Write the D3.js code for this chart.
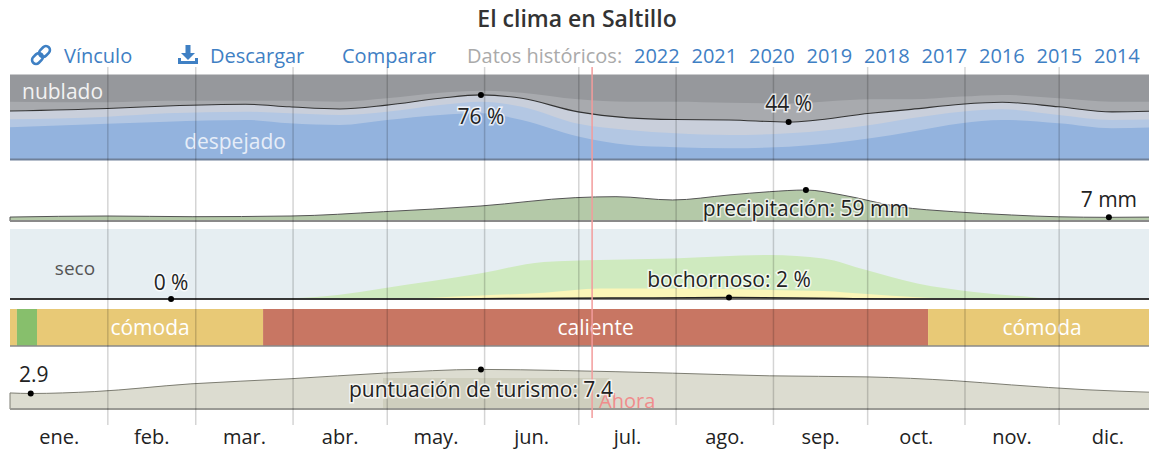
<!DOCTYPE html>
<html>
<head>
<meta charset="utf-8">
<script src="https://cdn.jsdelivr.net/npm/d3@7/dist/d3.min.js"></script>
<style>
  body { margin: 0; background: #fff; }
  svg { display: block; font-family: "Open Sans", sans-serif; }
</style>
</head>
<body>
<div id="chart"></div>
<script>
// Data ----------------------------------------------------------------------------------------------------------------
const monthNames = ["ene.", "feb.", "mar.", "abr.", "may.", "jun.", "jul.", "ago.", "sep.", "oct.", "nov.", "dic."];
const monthStarts = [0, 31, 59, 90, 120, 151, 181, 212, 243, 273, 304, 334, 365];
const historyYears = ["2022", "2021", "2020", "2019", "2018", "2017", "2016", "2015", "2014"];
const nowDay = 185.4;

// cloud cover, cumulative % from the bottom (clear -> overcast)
const cloudDays = [0, 31, 50, 75, 89, 105, 120, 137, 150, 163, 181, 197, 212, 229, 248, 274, 287, 303, 316, 334, 351, 365];
const clearTop = [38, 42, 44.5, 46.5, 42.6, 40.6, 46.5, 52.4, 54.4, 46.5, 27, 17, 14.4, 13.2, 15, 25, 32.7, 42.6, 46.5, 42.6, 36.7, 38];
const mostlyClearTop = [47.3, 50.4, 54.4, 56.2, 54.4, 52.4, 56.2, 64.1, 68, 62.1, 42, 34.7, 30.8, 28.8, 30.8, 40.6, 48.5, 56.2, 59, 52.4, 46.5, 47.3];
const cloudLine = [57, 60, 63, 65, 62, 59.4, 64, 72, 76, 72, 56, 49, 47, 46.5, 44, 54.4, 59, 65, 67.3, 62, 56, 57];
const mostlyCloudyTop = [68, 67.3, 69.2, 69.2, 69.2, 68, 72, 78.6, 81, 78.6, 70.8, 68, 68, 66.8, 66, 70.8, 70.8, 74, 76, 72, 68, 68];

// precipitation, mm
const precipDays = [0, 31, 58, 89.5, 119, 150, 180, 193, 211, 229, 242, 253.5, 265, 283, 300.6, 319, 334, 350, 365];
const precipMm = [7.5, 9.5, 8.2, 9.5, 17.7, 28.6, 44.4, 46.3, 40, 49.5, 55.8, 59, 49.5, 27.2, 17.7, 11.4, 8, 7, 7.5];

// humidity comfort, % of time
const humidDays = [0, 76, 89.5, 105, 119, 150, 170, 188, 211, 242, 259, 273, 289, 307, 325, 334, 365];
const humidPct = [0, 0, 1, 6, 15.3, 36.7, 53, 55.7, 58, 63, 58, 41, 22, 10, 3, 0, 0];
const humidYellowPct = [0, 0, 0, 0, 0, 5, 9, 15, 15, 13, 11.4, 7, 2.5, 0, 0, 0, 0];
const muggyDays = [0, 51.3, 140, 165, 200, 229, 250, 265, 282, 365];
const muggyPct = [0, 0, 0, 0.8, 1.5, 2, 1.4, 0.6, 0, 0];

// temperature comfort segments
const comfortStart = [0, 2.2, 8.6, 80.6, 292.4];
const comfortEnd = [2.2, 8.6, 80.6, 292.4, 365];
const comfortClass = ["cómoda", "fresca", "cómoda", "caliente", "cómoda"];

// tourism score
const tourDays = [0, 6.6, 27, 57.6, 89.5, 119, 150, 175, 211, 242, 273, 300.6, 319, 342.7, 365];
const tourScore = [3.0, 2.9, 3.26, 4.7, 5.66, 6.7, 7.4, 7.2, 6.7, 6.2, 6.0, 5.3, 4.5, 3.6, 3.1];
const tourBestStart = 118.8, tourBestEnd = 190.8;

// Canvas --------------------------------------------------------------------------------------------------------------
const canvasWidth = 1149;
const canvasHeight = 450;

const svg = d3.select("#chart")
  .append("svg")
  .attr("width", canvasWidth)
  .attr("height", canvasHeight);

const xScale = d3.scaleLinear().domain([0, 365]).range([10, 1156]);

const comfortColors = { "cómoda": "#e8c976", "fresca": "#87bf6c", "caliente": "#c87663" };
const labelSize = "21px";

const haloLabel = function(g, x, y, text, anchor) {
  g.append("text")
    .attr("x", x)
    .attr("y", y)
    .attr("text-anchor", anchor || "middle")
    .style("font-size", labelSize)
    .style("fill", "#222")
    .style("stroke", "rgba(255,255,255,0.75)")
    .style("stroke-width", 3)
    .style("paint-order", "stroke")
    .text(text);
};

const dot = function(g, x, y) {
  g.append("circle").attr("cx", x).attr("cy", y).attr("r", 3).attr("fill", "#000");
};

// Header --------------------------------------------------------------------------------------------------------------
svg.append("text")
  .attr("x", 577)
  .attr("y", 27)
  .attr("text-anchor", "middle")
  .style("font-size", "23px")
  .style("font-weight", 600)
  .style("fill", "#333")
  .text("El clima en Saltillo");

const linkColor = "#3f80c4";
const header = svg.append("g").style("font-size", "20px");

// link icon
const linkIcon = header.append("g").attr("transform", "translate(41, 55) rotate(-45)")
  .attr("fill", "none").attr("stroke", linkColor).attr("stroke-width", 2.6);
linkIcon.append("rect").attr("x", -11).attr("y", -4).attr("width", 12).attr("height", 8).attr("rx", 4);
linkIcon.append("rect").attr("x", -1).attr("y", -4).attr("width", 12).attr("height", 8).attr("rx", 4);
header.append("text").attr("x", 64).attr("y", 63).style("fill", linkColor).text("Vínculo");

// download icon
const dl = header.append("g").attr("transform", "translate(188, 55)").attr("fill", linkColor);
dl.append("rect").attr("x", -2.5).attr("y", -10).attr("width", 5).attr("height", 9);
dl.append("path").attr("d", "M-7,-2 L7,-2 L0,5 Z");
dl.append("path").attr("d", "M-10,3 L-10,9 L10,9 L10,3 L7,3 L7,6 L-7,6 L-7,3 Z");
header.append("text").attr("x", 210).attr("y", 63).style("fill", linkColor).text("Descargar");

header.append("text").attr("x", 342).attr("y", 63).style("fill", linkColor).text("Comparar");
header.append("text").attr("x", 467).attr("y", 63).style("fill", "#aaa").text("Datos históricos:");

const yearX = d3.scalePoint().domain(historyYears).range([634, 1094]);
header.selectAll(".year")
  .data(historyYears)
  .join("text")
  .attr("class", "year")
  .attr("x", d => yearX(d))
  .attr("y", 63)
  .style("fill", linkColor)
  .text(d => d);

// Cloud band ----------------------------------------------------------------------------------------------------------
const cloudTopY = 74.5, cloudBottomY = 159.5;
const yCloud = d3.scaleLinear().domain([0, 100]).range([cloudBottomY, cloudTopY]);
const cloudG = svg.append("g");

cloudG.append("rect")
  .attr("x", xScale(0)).attr("y", cloudTopY)
  .attr("width", xScale(365) - xScale(0)).attr("height", cloudBottomY - cloudTopY)
  .attr("fill", "#96989c");

const cloudLayers = [
  { top: mostlyCloudyTop, color: "#a8aaae" },
  { top: cloudLine, color: "#c9cfdb" },
  { top: mostlyClearTop, color: "#b3c7e3" },
  { top: clearTop, color: "#93b3de" }
];
cloudLayers.forEach(function(layer) {
  cloudG.append("path")
    .datum(cloudDays.map((d, i) => [d, layer.top[i]]))
    .attr("fill", layer.color)
    .attr("d", d3.area().curve(d3.curveMonotoneX)
      .x(d => xScale(d[0])).y0(yCloud(0)).y1(d => yCloud(d[1])));
});
cloudG.append("path")
  .datum(cloudDays.map((d, i) => [d, cloudLine[i]]))
  .attr("fill", "none")
  .attr("stroke", "#333")
  .attr("stroke-width", 1.1)
  .attr("d", d3.line().curve(d3.curveMonotoneX).x(d => xScale(d[0])).y(d => yCloud(d[1])));
cloudG.append("line")
  .attr("x1", xScale(0)).attr("x2", xScale(365))
  .attr("y1", cloudBottomY).attr("y2", cloudBottomY)
  .attr("stroke", "#6f8099").attr("stroke-width", 2);

cloudG.append("text").attr("x", 22).attr("y", 99)
  .style("font-size", labelSize).style("fill", "#f2f2f2").text("nublado");
cloudG.append("text").attr("x", 235).attr("y", 149).attr("text-anchor", "middle")
  .style("font-size", labelSize).style("fill", "#e6edf8").text("despejado");

// Precipitation band --------------------------------------------------------------------------------------------------
const precipBaseY = 221;
const yPrecip = d3.scaleLinear().domain([0, 59]).range([precipBaseY, 190]);
const precipG = svg.append("g");
const precipData = precipDays.map((d, i) => [d, precipMm[i]]);

precipG.append("path")
  .datum(precipData)
  .attr("fill", "#b4c9a8")
  .attr("stroke", "#555")
  .attr("stroke-width", 1)
  .attr("d", d3.area().curve(d3.curveMonotoneX).x(d => xScale(d[0])).y0(yPrecip(0)).y1(d => yPrecip(d[1])));
precipG.append("line")
  .attr("x1", xScale(0)).attr("x2", xScale(365))
  .attr("y1", precipBaseY).attr("y2", precipBaseY)
  .attr("stroke", "#8a8a8a").attr("stroke-width", 2);

// Humidity band -------------------------------------------------------------------------------------------------------
const humidTopY = 229, humidBaseY = 299;
const yHumid = d3.scaleLinear().domain([0, 100]).range([humidBaseY, humidTopY]);
const humidG = svg.append("g");

humidG.append("rect")
  .attr("x", xScale(0)).attr("y", humidTopY)
  .attr("width", xScale(365) - xScale(0)).attr("height", humidBaseY - humidTopY)
  .attr("fill", "#e6eef2");
[{ v: humidPct, color: "#cfeabf" }, { v: humidYellowPct, color: "#fbf6b8" }].forEach(function(layer) {
  humidG.append("path")
    .datum(humidDays.map((d, i) => [d, layer.v[i]]))
    .attr("fill", layer.color)
    .attr("d", d3.area().curve(d3.curveMonotoneX).x(d => xScale(d[0])).y0(yHumid(0)).y1(d => yHumid(d[1])));
});
humidG.append("line")
  .attr("x1", xScale(0)).attr("x2", xScale(365))
  .attr("y1", humidBaseY).attr("y2", humidBaseY)
  .attr("stroke", "#555").attr("stroke-width", 1.5);
humidG.append("path")
  .datum(muggyDays.map((d, i) => [d, muggyPct[i]]))
  .attr("fill", "none")
  .attr("stroke", "#222")
  .attr("stroke-width", 1.5)
  .attr("d", d3.line().curve(d3.curveMonotoneX).x(d => xScale(d[0])).y(d => yHumid(d[1])));
humidG.append("text").attr("x", 75).attr("y", 275).attr("text-anchor", "middle")
  .style("font-size", "19px").style("fill", "#555").text("seco");

// Comfort band --------------------------------------------------------------------------------------------------------
const comfortTopY = 309, comfortBottomY = 346;
const comfortG = svg.append("g");
const comfortSegments = comfortClass.map((c, i) => ({ c: c, s: comfortStart[i], e: comfortEnd[i] }));
comfortG.selectAll("rect")
  .data(comfortSegments)
  .join("rect")
  .attr("x", d => xScale(d.s))
  .attr("y", comfortTopY)
  .attr("width", d => xScale(d.e) - xScale(d.s))
  .attr("height", comfortBottomY - comfortTopY)
  .attr("fill", d => comfortColors[d.c]);
comfortG.selectAll("text")
  .data(comfortSegments.filter(d => d.e - d.s > 30))
  .join("text")
  .attr("x", d => xScale((d.s + d.e) / 2))
  .attr("y", 335)
  .attr("text-anchor", "middle")
  .style("font-size", labelSize)
  .style("fill", "#fff")
  .text(d => d.c);
comfortG.append("line")
  .attr("x1", xScale(0)).attr("x2", xScale(365))
  .attr("y1", comfortBottomY).attr("y2", comfortBottomY)
  .attr("stroke", "#8a8a8a").attr("stroke-width", 1.5);

// Tourism band --------------------------------------------------------------------------------------------------------
const tourBaseY = 409;
const yTour = d3.scaleLinear().domain([0, 10]).range([tourBaseY, tourBaseY - 53.5]);
const tourG = svg.append("g");
tourG.append("path")
  .datum(tourDays.map((d, i) => [d, tourScore[i]]))
  .attr("fill", "#dcdcd0")
  .attr("stroke", "#7d7d72")
  .attr("stroke-width", 1)
  .attr("d", d3.area().curve(d3.curveMonotoneX).x(d => xScale(d[0])).y0(yTour(0)).y1(d => yTour(d[1])));
tourG.append("rect")
  .attr("x", xScale(tourBestStart)).attr("y", 378)
  .attr("width", xScale(tourBestEnd) - xScale(tourBestStart)).attr("height", tourBaseY - 378)
  .attr("fill", "rgba(150,150,110,0.18)");
tourG.append("line")
  .attr("x1", xScale(0)).attr("x2", xScale(365))
  .attr("y1", tourBaseY).attr("y2", tourBaseY)
  .attr("stroke", "#9a9a94").attr("stroke-width", 2);

// Grid and month axis -------------------------------------------------------------------------------------------------
const gridAxis = svg.append("g")
  .attr("transform", "translate(0, 425)")
  .call(d3.axisBottom(xScale).tickValues(monthStarts.slice(1, 12)).tickSize(-358).tickFormat(""));
gridAxis.select(".domain").remove();
gridAxis.selectAll("line").attr("stroke", "rgba(0,0,0,0.17)").attr("stroke-width", 1.5);

const monthMids = monthStarts.slice(0, 12).map((d, i) => (d + monthStarts[i + 1]) / 2);
const monthAxis = svg.append("g")
  .attr("transform", "translate(0, 427)")
  .call(d3.axisBottom(xScale).tickValues(monthMids).tickSize(0).tickFormat((d, i) => monthNames[i]));
monthAxis.select(".domain").remove();
monthAxis.selectAll("text")
  .style("font-family", "Open Sans, sans-serif")
  .style("font-size", "20px")
  .style("fill", "#222");

// "Now" marker --------------------------------------------------------------------------------------------------------
svg.append("line")
  .attr("x1", xScale(nowDay)).attr("x2", xScale(nowDay))
  .attr("y1", 67).attr("y2", 418)
  .attr("stroke", "#f39c9c").attr("stroke-width", 1.5);
svg.append("text")
  .attr("x", xScale(nowDay) + 7).attr("y", 408)
  .style("font-size", "20px").style("fill", "#f08c8c").text("Ahora");

// Annotations ---------------------------------------------------------------------------------------------------------
const labelG = svg.append("g");
const iCloudMax = d3.maxIndex(cloudLine), iCloudMin = d3.minIndex(cloudLine);
dot(labelG, xScale(cloudDays[iCloudMax]), yCloud(cloudLine[iCloudMax]));
haloLabel(labelG, xScale(cloudDays[iCloudMax]), yCloud(cloudLine[iCloudMax]) + 29, cloudLine[iCloudMax] + " %");
dot(labelG, xScale(cloudDays[iCloudMin]), yCloud(cloudLine[iCloudMin]));
haloLabel(labelG, xScale(cloudDays[iCloudMin]), yCloud(cloudLine[iCloudMin]) - 11, cloudLine[iCloudMin] + " %");

const iPrecipMax = d3.maxIndex(precipMm), iPrecipMin = d3.minIndex(precipMm);
dot(labelG, xScale(precipDays[iPrecipMax]), yPrecip(precipMm[iPrecipMax]));
haloLabel(labelG, xScale(precipDays[iPrecipMax]), yPrecip(precipMm[iPrecipMax]) + 26,
  "precipitación: " + precipMm[iPrecipMax] + " mm");
dot(labelG, xScale(precipDays[iPrecipMin]), yPrecip(precipMm[iPrecipMin]));
haloLabel(labelG, xScale(precipDays[iPrecipMin]), yPrecip(precipMm[iPrecipMin]) - 10,
  precipMm[iPrecipMin] + " mm");

dot(labelG, xScale(muggyDays[1]), yHumid(muggyPct[1]));
haloLabel(labelG, xScale(muggyDays[1]), yHumid(muggyPct[1]) - 9, muggyPct[1] + " %");
const iMuggyMax = d3.maxIndex(muggyPct);
dot(labelG, xScale(muggyDays[iMuggyMax]), yHumid(muggyPct[iMuggyMax]));
haloLabel(labelG, xScale(muggyDays[iMuggyMax]), yHumid(muggyPct[iMuggyMax]) - 11,
  "bochornoso: " + muggyPct[iMuggyMax] + " %");

const iTourMax = d3.maxIndex(tourScore), iTourMin = d3.minIndex(tourScore);
dot(labelG, xScale(tourDays[iTourMin]), yTour(tourScore[iTourMin]));
haloLabel(labelG, xScale(tourDays[iTourMin]) + 3, yTour(tourScore[iTourMin]) - 11, tourScore[iTourMin].toFixed(1));
dot(labelG, xScale(tourDays[iTourMax]), yTour(tourScore[iTourMax]));
haloLabel(labelG, xScale(tourDays[iTourMax]), yTour(tourScore[iTourMax]) + 28,
  "puntuación de turismo: " + tourScore[iTourMax].toFixed(1));
</script>
</body>
</html>
